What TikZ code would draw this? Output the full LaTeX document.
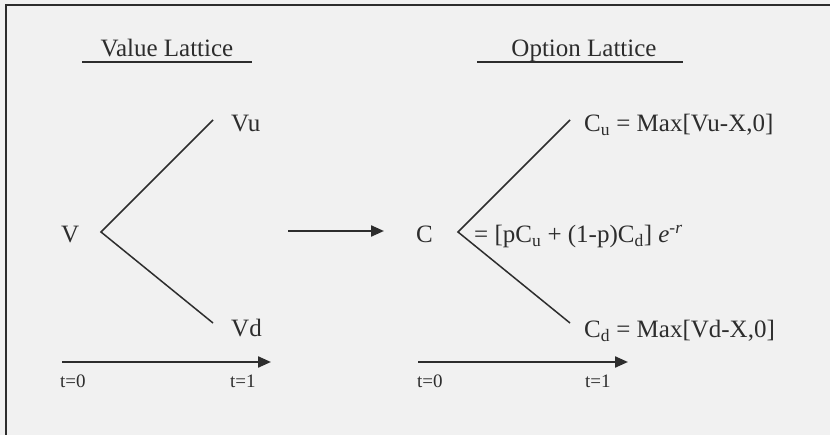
\documentclass[tikz,border=0pt]{standalone}
\usepackage{fontspec}
\setmainfont{Liberation Serif}
\usetikzlibrary{arrows.meta}
\definecolor{bg}{RGB}{241,241,241}
\definecolor{ink}{RGB}{45,45,45}
\tikzset{
  lbl/.style={anchor=base west, inner sep=0pt, text=ink, font=\fontsize{25}{29}\selectfont},
  tlbl/.style={anchor=base west, inner sep=0pt, text=ink, font=\fontsize{19}{22}\selectfont},
  ttl/.style={anchor=base, inner sep=0pt, text=ink, font=\fontsize{25}{29}\selectfont},
  branch/.style={draw=ink, line width=1.5pt},
  uline/.style={draw=ink, line width=1.6pt},
  frame/.style={draw=ink, line width=1.8pt},
  arr/.style={draw=ink, line width=2.2pt, -{Triangle[length=13pt,width=11pt]}}
}
\begin{document}
\begin{tikzpicture}[x=1pt,y=-1pt]
\fill[bg] (0,0) rectangle (830,435);
\useasboundingbox (0,0) rectangle (830,435);
% frame (top and left only)
\coordinate (ftl) at (6,5);
\coordinate (ftr) at (830,5);
\coordinate (fbl) at (6,435);
\draw[frame] (fbl) -- (ftl) -- (ftr);

% titles
\node[ttl] (vt) at (167,57) {Value Lattice};
\node[ttl] (ot) at (584,57) {Option Lattice};
\coordinate (vu1) at (82,62); \coordinate (vu2) at (252,62);
\coordinate (ou1) at (477,62); \coordinate (ou2) at (683,62);
\draw[uline] (vu1) -- (vu2);
\draw[uline] (ou1) -- (ou2);

% value lattice
\node[lbl] (V) at (61,243) {V};
\node[lbl] (Vu) at (231,132) {Vu};
\node[lbl] (Vd) at (231,337) {Vd};
\coordinate (vv) at (101,232);
\coordinate (vue) at (213,120);
\coordinate (vde) at (213,323);
\draw[branch] (vue) -- (vv) -- (vde);

% middle arrow
\coordinate (ma1) at (288,231);
\coordinate (ma2) at (384,231);
\draw[arr] (ma1) -- (ma2);

% option lattice
\node[lbl] (C) at (416,243) {C};
\node[lbl] (Cu) at (584,132) {C\textsubscript{u} = Max[Vu-X,0]};
\node[lbl] (Cd) at (584,338) {C\textsubscript{d} = Max[Vd-X,0]};
\node[lbl] (eq) at (474,243) {= [pC\textsubscript{u} + (1-p)C\textsubscript{d}] \textit{e}\textsuperscript{\textit{-r}}};
\coordinate (cv) at (458,232);
\coordinate (cue) at (570,120);
\coordinate (cde) at (570,323);
\draw[branch] (cue) -- (cv) -- (cde);

% time arrows
\coordinate (la1) at (62,362); \coordinate (la2) at (271,362);
\coordinate (ra1) at (418,362); \coordinate (ra2) at (628,362);
\draw[arr] (la1) -- (la2);
\draw[arr] (ra1) -- (ra2);
\node[tlbl] (l0) at (60,388) {t=0};
\node[tlbl] (l1) at (230,388) {t=1};
\node[tlbl] (r0) at (417,388) {t=0};
\node[tlbl] (r1) at (585,388) {t=1};
\end{tikzpicture}
\end{document}
